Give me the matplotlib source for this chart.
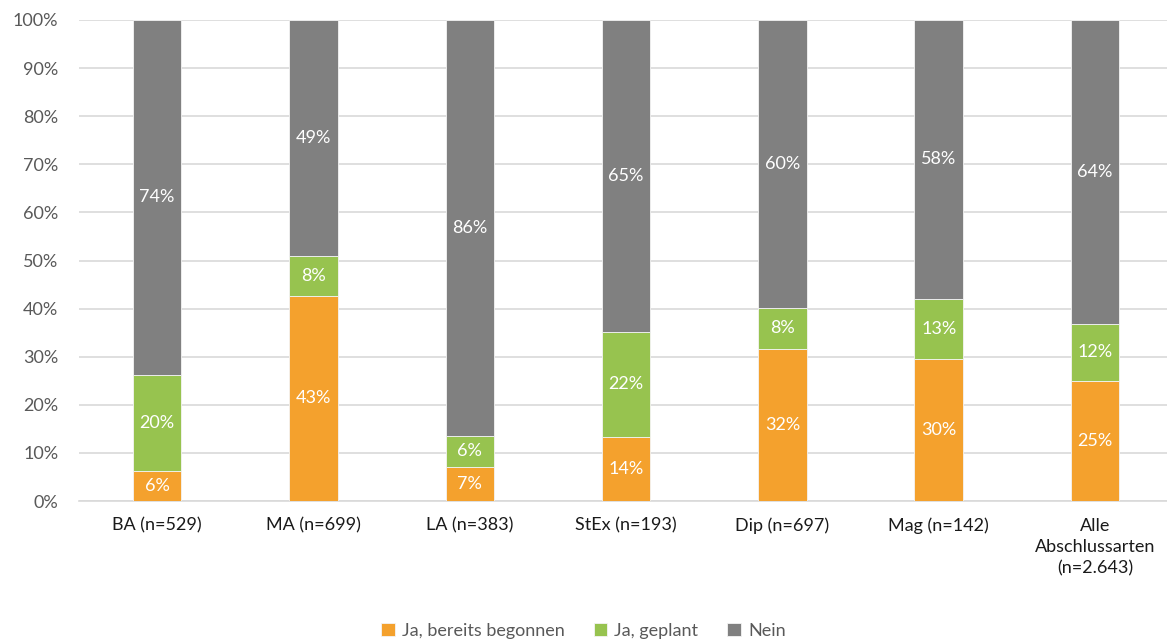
import matplotlib
matplotlib.use("Agg")
import matplotlib.pyplot as plt
import numpy as np

plt.rcParams['font.family'] = ['Lato', 'DejaVu Sans']

categories = ["BA (n=529)", "MA (n=699)", "LA (n=383)", "StEx (n=193)",
              "Dip (n=697)", "Mag (n=142)", "Alle\nAbschlussarten\n(n=2.643)"]
begonnen = [6.2, 42.7, 7.1, 13.4, 31.7, 29.5, 24.9]
geplant = [20.1, 8.2, 6.4, 21.8, 8.4, 12.6, 12.0]
nein = [73.7, 49.1, 86.5, 64.8, 59.9, 57.9, 63.1]
labels_beg = ["6%", "43%", "7%", "14%", "32%", "30%", "25%"]
labels_gep = ["20%", "8%", "6%", "22%", "8%", "13%", "12%"]
labels_nein = ["74%", "49%", "86%", "65%", "60%", "58%", "64%"]
series_names = ["Ja, bereits begonnen", "Ja, geplant", "Nein"]
colors = ["#F4A12D", "#97C34F", "#808080"]

fig = plt.figure(figsize=(11.67, 6.41), dpi=100)
ax = fig.add_axes([0.0677, 0.2184, 0.9376, 0.7504])

x = np.arange(len(categories))
width = 0.31
bottom = np.zeros(len(categories))
for vals, labs, col, name in zip([begonnen, geplant, nein],
                                 [labels_beg, labels_gep, labels_nein],
                                 colors, series_names):
    vals = np.array(vals)
    ax.bar(x, vals, width, bottom=bottom, color=col, label=name,
           edgecolor="#f4f4f4", linewidth=0.6, zorder=3)
    for xi, b, v, lab in zip(x, bottom, vals, labs):
        ax.text(xi, b + v / 2, lab, ha="center", va="center",
                color="white", fontsize=13, zorder=4)
    bottom = bottom + vals

ax.set_ylim(0, 100)
ax.set_xlim(-0.5, 6.5)
ax.set_yticks(np.arange(0, 101, 10))
ax.set_yticklabels([f"{v}%" for v in range(0, 101, 10)])
ax.set_xticks(x)
ax.set_xticklabels(categories, linespacing=1.4)
ax.grid(axis="y", color="#D9D9D9", linewidth=1.2, zorder=0)
for s in ["top", "right", "left"]:
    ax.spines[s].set_visible(False)
ax.spines["bottom"].set_color("#D9D9D9")
ax.spines["bottom"].set_linewidth(1.2)
ax.tick_params(axis="y", length=0, pad=15, labelsize=13, labelcolor="#595959")
ax.tick_params(axis="x", length=0, pad=12, labelsize=13, labelcolor="#1a1a1a")

fig.legend(loc="center", bbox_to_anchor=(0.5, 0.016), ncol=3, frameon=False,
           fontsize=13, labelcolor="#595959", handlelength=0.75,
           handleheight=0.75, handletextpad=0.4, columnspacing=1.6)

fig.savefig("out.png", dpi=100)
